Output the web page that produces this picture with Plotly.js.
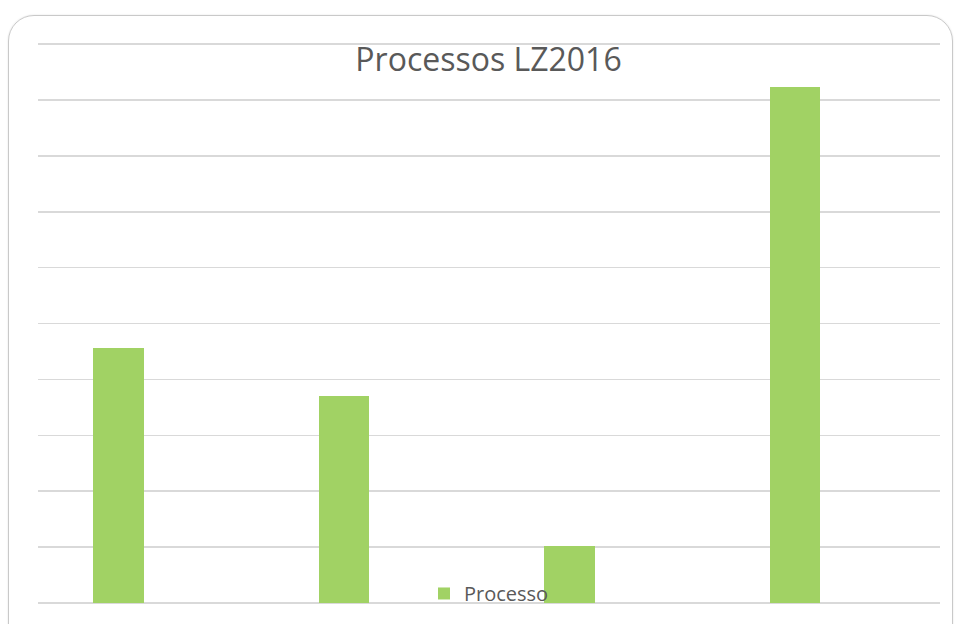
<!DOCTYPE html>
<html>
<head>
<meta charset="utf-8">
<script src="https://cdn.plot.ly/plotly-3.0.1.min.js"></script>
<style>
  html, body { margin: 0; padding: 0; background: #ffffff; }
  #wrap { position: relative; width: 956px; height: 624px; overflow: hidden; }
  #chart { position: absolute; left: 0; top: 0; width: 956px; height: 624px; }
  #frame {
    position: absolute; left: 8px; top: 15px; width: 943px; height: 640px;
    border: 1.5px solid #c9c9c9; border-radius: 26px; pointer-events: none;
    box-shadow: 0 0 2px rgba(0,0,0,0.12);
  }
</style>
</head>
<body>
<div id="wrap">
  <div id="chart"></div>
  <div id="frame"></div>
</div>
<script>
const categories = ["1", "2", "3", "4"];
const processoValues = [4.57, 3.71, 1.02, 9.23];
const seriesName = "Processo";
const chartTitle = "Processos LZ2016";

const trace = {
  type: "bar",
  x: categories,
  y: processoValues,
  name: seriesName,
  width: 0.226,
  offset: -0.256,
  marker: { color: "#a1d264" },
  hoverinfo: "x+y",
  showlegend: true
};

const layout = {
  width: 956,
  height: 624,
  paper_bgcolor: "#ffffff",
  plot_bgcolor: "#ffffff",
  margin: { l: 38, r: 16, t: 43, b: 20, pad: 0 },
  title: {
    text: chartTitle,
    font: { family: "Open Sans, sans-serif", size: 32, color: "#595959" },
    x: 0.511, xanchor: "center",
    y: 0.904, yanchor: "middle"
  },
  xaxis: {
    type: "category",
    range: [-0.5, 3.5],
    showticklabels: false,
    showgrid: false,
    zeroline: false,
    showline: false,
    ticks: ""
  },
  yaxis: {
    range: [0, 10.02],
    dtick: 1,
    showticklabels: false,
    showgrid: true,
    gridcolor: "#d9d9d9",
    gridwidth: 1.5,
    zeroline: true,
    zerolinecolor: "#d9d9d9",
    zerolinewidth: 1.5,
    showline: false,
    ticks: ""
  },
  showlegend: true,
  legend: {
    orientation: "h",
    x: 0.5, xanchor: "center",
    y: -0.016, yanchor: "bottom",
    bgcolor: "rgba(0,0,0,0)",
    font: { family: "Open Sans, sans-serif", size: 20, color: "#595959" },
    itemwidth: 30
  },
  bargap: 0
};

Plotly.newPlot("chart", [trace], layout, { displayModeBar: false, staticPlot: true });
</script>
</body>
</html>
